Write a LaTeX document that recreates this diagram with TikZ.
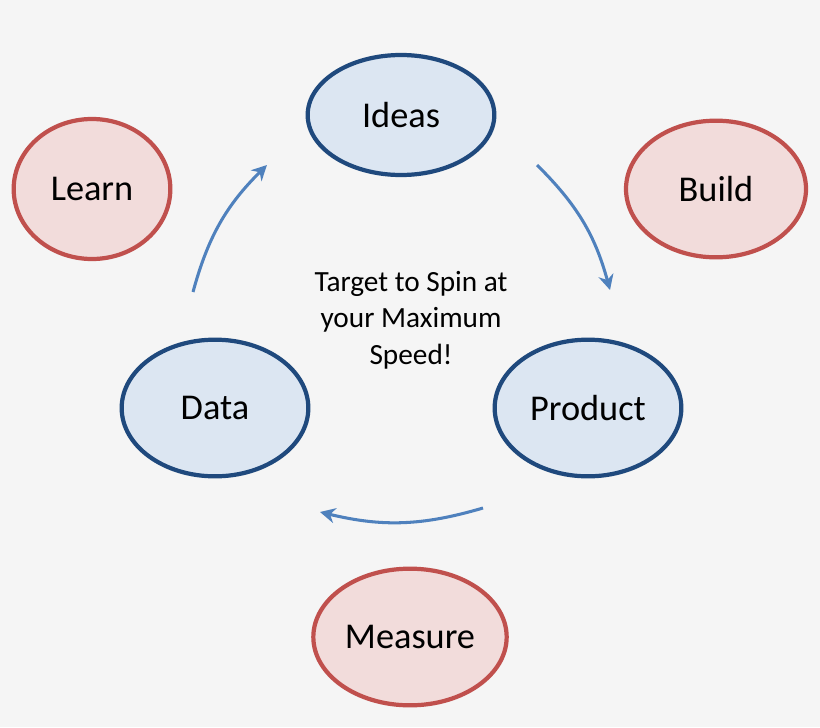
\documentclass[tikz,border=0pt]{standalone}
\usepackage{fontspec}
\setmainfont{Carlito}
\usetikzlibrary{arrows.meta,shapes.geometric}
\definecolor{bfill}{HTML}{DCE6F2}
\definecolor{bline}{HTML}{1F497D}
\definecolor{rfill}{HTML}{F2DCDB}
\definecolor{rline}{HTML}{C0504D}
\definecolor{arr}{HTML}{4F81BD}
\begin{document}
\begin{tikzpicture}[x=0.03cm,y=-0.03cm,
 bl/.style={ellipse,draw=bline,fill=bfill,line width=3.6pt,font=\fontsize{31}{34}\selectfont,inner sep=0},
 rd/.style={ellipse,draw=rline,fill=rfill,line width=3.6pt,font=\fontsize{31}{34}\selectfont,inner sep=0},
 ar/.style={draw=arr,line width=2.6pt,-{Stealth[length=13pt,width=13pt]}}]
\fill[white!96!black] (0,0) rectangle (820,727);
\useasboundingbox (0,0) rectangle (820,727);
\node[bl,minimum width=5.6cm,minimum height=3.6cm] (ideas) at (401,115) {Ideas};
\node[rd,minimum width=4.7cm,minimum height=4.2cm] (learn) at (92,189) {Learn};
\node[rd,minimum width=5.4cm,minimum height=4.1cm] (build) at (716,189) {Build};
\node[bl,minimum width=5.6cm,minimum height=4.1cm] (data) at (215,408) {Data};
\node[bl,minimum width=5.6cm,minimum height=4.1cm] (product) at (588,408) {Product};
\node[rd,minimum width=5.8cm,minimum height=4.1cm] (measure) at (410,637) {Measure};
\node[align=center,font=\fontsize{25}{31}\selectfont] (center) at (411,320) {Target to Spin at\\your Maximum\\Speed!};
\coordinate (a1s) at (193,292); \coordinate (a1e) at (267,165);
\coordinate (a2s) at (537,165); \coordinate (a2e) at (610,290);
\coordinate (a3s) at (483,508); \coordinate (a3e) at (320,512);
\draw[ar] (a1s) to[bend left=15] (a1e);
\draw[ar] (a2s) to[bend left=15] (a2e);
\draw[ar] (a3s) to[bend left=15] (a3e);
\end{tikzpicture}
\end{document}
